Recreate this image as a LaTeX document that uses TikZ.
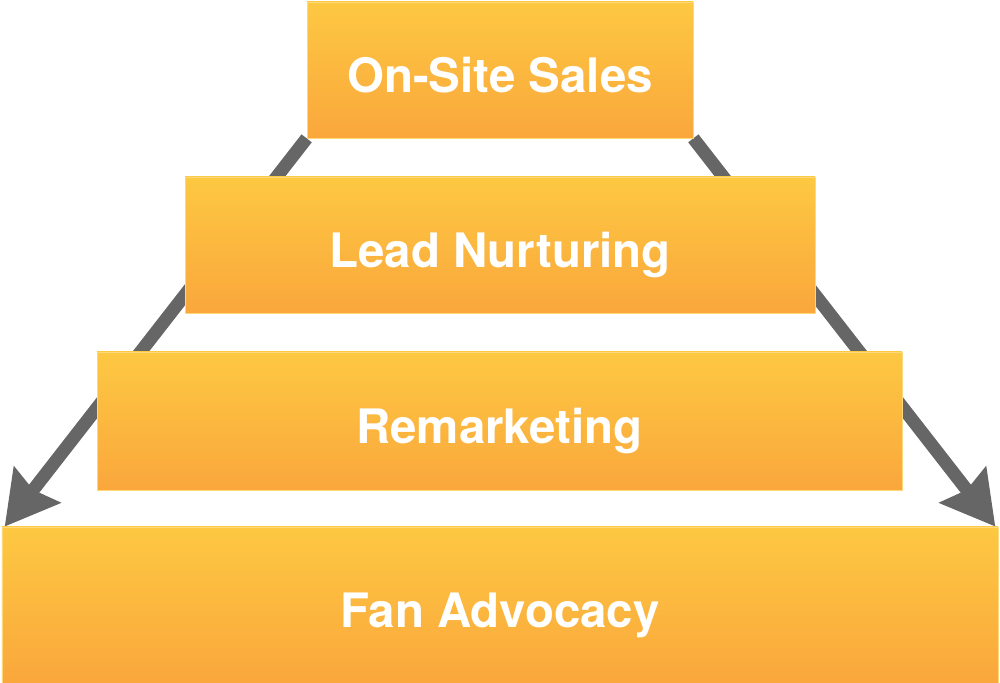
\documentclass[tikz,border=0pt]{standalone}
\usepackage{fontspec}
\setmainfont{TeX Gyre Heros}
\usetikzlibrary{arrows.meta, backgrounds}

\definecolor{boxtop}{HTML}{FDC842}
\definecolor{boxbottom}{HTML}{FAA73C}
\definecolor{arrowgray}{HTML}{666666}

\tikzset{
    stage/.style={rectangle, top color=boxtop, bottom color=boxbottom,
        draw=boxtop!70!white, line width=0.4pt, text=white,
        font=\fontsize{27}{30}\selectfont\bfseries, inner sep=0pt,
        text height=0.9cm, text depth=0cm},
    funnel/.style={draw=arrowgray, line width=0.26cm,
        -{Stealth[length=1.05cm, width=1.15cm, inset=0.12cm]}}
}

\begin{document}
\begin{tikzpicture}

    \useasboundingbox (0,0) rectangle (20,13.66);

    \node[stage, minimum width=7.72cm, minimum height=2.72cm] (sales) at (10.0, 12.26) {On-Site Sales};
    \node[stage, minimum width=12.6cm, minimum height=2.72cm] (lead) at (10.0, 8.76) {Lead Nurturing};
    \node[stage, minimum width=16.1cm, minimum height=2.76cm] (remark) at (9.99, 5.24) {Remarketing};
    \node[stage, minimum width=19.92cm, minimum height=3.12cm] (fan) at (10.0, 1.56) {Fan Advocacy};

    \begin{pgfonlayer}{background}
    \draw[funnel] (sales.south west) -- ([xshift=0.06cm]fan.north west);
    \draw[funnel] (sales.south east) -- ([xshift=-0.06cm]fan.north east);
    \end{pgfonlayer}

\end{tikzpicture}
\end{document}
